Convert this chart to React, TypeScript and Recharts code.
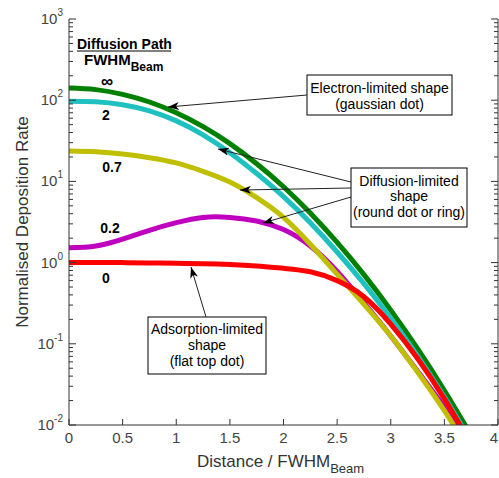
import { LineChart, Line, XAxis, YAxis } from "recharts";

// distance / FWHM (beam)
const distance = [0, 0.25, 0.5, 0.75, 1, 1.25, 1.5, 1.75, 2, 2.25, 2.5, 2.75, 3, 3.25, 3.5, 3.75];

// normalised deposition rate per diffusion path / FWHM
const pathInf = [141, 135, 118, 95, 70, 47.2, 29.2, 16.5, 8.6, 4.07, 1.77, 0.71, 0.26, 0.087, 0.0266, 0.0075];
const path2 = [97, 95.5, 87.7, 73.8, 55.6, 37.5, 22.6, 12.5, 6.5, 3.09, 1.35, 0.55, 0.206, 0.0705, 0.0221, 0.0062];
const path07 = [23.7, 23.2, 21.8, 19.6, 16.9, 13.3, 9.8, 6.3, 3.6, 1.68, 0.72, 0.306, 0.125, 0.045, 0.015, 0.0044];
const path02 = [1.52, 1.6, 1.95, 2.5, 3.1, 3.6, 3.6, 3.25, 2.55, 1.6, 0.78, 0.32, 0.125, 0.046, 0.0165, 0.0055];
const path0 = [1.0, 1.0, 1.0, 0.99, 0.98, 0.97, 0.95, 0.91, 0.85, 0.77, 0.6, 0.38, 0.175, 0.066, 0.021, 0.0058];

const xTicks = [0, 0.5, 1, 1.5, 2, 2.5, 3, 3.5, 4];
const xTickLabels = ["0", "0.5", "1", "1.5", "2", "2.5", "3", "3.5", "4"];
const yMajor = [0.01, 0.1, 1, 10, 100, 1000];
const yExponents = ["-2", "-1", "0", "1", "2", "3"];
const minorSteps = [2, 3, 4, 5, 6, 7, 8, 9];

const data = distance.map((x, i) => ({
  x,
  inf: pathInf[i],
  p2: path2[i],
  p07: path07[i],
  p02: path02[i],
  p0: path0[i],
}));

const yTicks: number[] = [];
yMajor.slice(0, -1).forEach(d => {
  yTicks.push(d);
  minorSteps.forEach(m => yTicks.push(+(d * m).toPrecision(3)));
});
yTicks.push(1000);

const W = 499;
const H = 478;
const LEFT = 69;
const RIGHT = 498;
const TOP = 19;
const BOTTOM = 425;
const FONT = "'Liberation Sans', Arial, sans-serif";
const AXIS = "#333";

const LeftTick = ({ y, payload }: any) => {
  const idx = yMajor.indexOf(payload.value);
  const major = idx >= 0;
  return (
    <g>
      <line x1={LEFT} x2={LEFT + (major ? 7 : 4)} y1={y} y2={y} stroke={AXIS} />
      {major && (
        <text x={LEFT - 6} y={y + 5} textAnchor="end" fontSize={15} fill="#444" fontFamily={FONT}>
          10<tspan dy={-8} fontSize={10}>{yExponents[idx]}</tspan>
        </text>
      )}
    </g>
  );
};

const RightTick = ({ y, payload }: any) => {
  const major = yMajor.includes(payload.value);
  return <line x1={RIGHT} x2={RIGHT - (major ? 7 : 4)} y1={y} y2={y} stroke={AXIS} />;
};

const BottomTick = ({ x, payload }: any) => {
  const idx = xTicks.indexOf(payload.value);
  const last = idx === xTicks.length - 1;
  return (
    <g>
      <line x1={x} x2={x} y1={BOTTOM} y2={BOTTOM - 6} stroke={AXIS} />
      <text x={last ? x - 4 : x} y={BOTTOM + 18} textAnchor="middle" fontSize={15} fill="#444" fontFamily={FONT}>
        {xTickLabels[idx]}
      </text>
    </g>
  );
};

const TopTick = ({ x }: any) => <line x1={x} x2={x} y1={TOP} y2={TOP + 6} stroke={AXIS} />;

// annotation arrows: tail -> tip
const Arrow = ({ x1, y1, x2, y2 }: { x1: number; y1: number; x2: number; y2: number }) => (
  <line x1={x1} y1={y1} x2={x2} y2={y2} stroke="#222" strokeWidth={1} markerEnd="url(#head)" />
);

export default function App() {
  const txt = { fontFamily: FONT, fill: "#000" } as const;
  return (
    <div style={{ position: "absolute", left: 0, top: 0, width: W, height: H, background: "#fff" }}>
      <LineChart width={W} height={H} data={data} margin={{ top: TOP, right: 0, bottom: 0, left: 0 }}>
        <XAxis
          xAxisId="b"
          dataKey="x"
          type="number"
          domain={[0, 4]}
          ticks={xTicks}
          interval={0}
          height={H - BOTTOM}
          tickLine={false}
          axisLine={{ stroke: AXIS }}
          tick={<BottomTick />}
          allowDataOverflow
        />
        <XAxis
          xAxisId="t"
          orientation="top"
          dataKey="x"
          type="number"
          domain={[0, 4]}
          ticks={xTicks}
          interval={0}
          height={0}
          tickLine={false}
          axisLine={{ stroke: AXIS }}
          tick={<TopTick />}
        />
        <YAxis
          yAxisId="l"
          scale="log"
          type="number"
          domain={[0.01, 1000]}
          ticks={yTicks}
          interval={0}
          width={LEFT}
          tickLine={false}
          axisLine={{ stroke: AXIS }}
          tick={<LeftTick />}
          allowDataOverflow
        />
        <YAxis
          yAxisId="r"
          orientation="right"
          scale="log"
          type="number"
          domain={[0.01, 1000]}
          ticks={yTicks}
          interval={0}
          width={W - RIGHT}
          tickLine={false}
          axisLine={{ stroke: AXIS }}
          tick={<RightTick />}
          allowDataOverflow
        />
        <Line xAxisId="b" yAxisId="l" dataKey="inf" type="natural" stroke="#008000" strokeWidth={5} dot={false} isAnimationActive={false} />
        <Line xAxisId="b" yAxisId="l" dataKey="p2" type="natural" stroke="#1FC0C0" strokeWidth={5} dot={false} isAnimationActive={false} />
        <Line xAxisId="b" yAxisId="l" dataKey="p02" type="natural" stroke="#BF00BF" strokeWidth={5} dot={false} isAnimationActive={false} />
        <Line xAxisId="b" yAxisId="l" dataKey="p07" type="natural" stroke="#BFBF00" strokeWidth={5} dot={false} isAnimationActive={false} />
        <Line xAxisId="b" yAxisId="l" dataKey="p0" type="natural" stroke="#FF0000" strokeWidth={5} dot={false} isAnimationActive={false} />
      </LineChart>

      <svg width={W} height={H} style={{ position: "absolute", left: 0, top: 0, pointerEvents: "none" }}>
        <defs>
          <marker id="head" viewBox="0 -4 11 8" refX={11} refY={0} markerWidth={11} markerHeight={8} markerUnits="userSpaceOnUse" orient="auto">
            <path d="M0,-4 L11,0 L0,4 L3,0 Z" fill="#000" />
          </marker>
        </defs>

        {/* axis titles */}
        <text x={197} y={467} fontSize={17} fill="#333" fontFamily={FONT}>
          Distance / FWHM<tspan dy={6} fontSize={13}>Beam</tspan>
        </text>
        <text
          transform="translate(28,222) rotate(-90)"
          textAnchor="middle"
          fontSize={17}
          fill="#333"
          fontFamily={FONT}
        >
          Normalised Deposition Rate
        </text>

        {/* legend header */}
        <text x={77} y={49} fontSize={14} fontWeight="bold" {...txt}>Diffusion Path</text>
        <line x1={77} x2={171} y1={51} y2={51} stroke="#000" />
        <text x={84} y={65} fontSize={15} fontWeight="bold" {...txt}>
          FWHM<tspan dy={6} fontSize={12}>Beam</tspan>
        </text>

        {/* curve labels */}
        <text x={107} y={87} fontSize={17} fontWeight="bold" textAnchor="middle" {...txt}>∞</text>
        <text x={106} y={120} fontSize={14} fontWeight="bold" textAnchor="middle" {...txt}>2</text>
        <text x={112} y={172} fontSize={14} fontWeight="bold" textAnchor="middle" {...txt}>0.7</text>
        <text x={110} y={233} fontSize={14} fontWeight="bold" textAnchor="middle" {...txt}>0.2</text>
        <text x={106} y={283} fontSize={14} fontWeight="bold" textAnchor="middle" {...txt}>0</text>

        {/* electron-limited */}
        <rect x={307} y={75} width={145} height={40} fill="#fff" stroke="#000" />
        <text x={379.5} y={93} fontSize={14} textAnchor="middle" {...txt}>Electron-limited shape</text>
        <text x={379.5} y={109} fontSize={14} textAnchor="middle" {...txt}>(gaussian dot)</text>
        <Arrow x1={307} y1={95} x2={168} y2={107} />

        {/* diffusion-limited */}
        <rect x={351} y={168} width={116} height={59} fill="#fff" stroke="#000" />
        <text x={409} y={186} fontSize={14} textAnchor="middle" {...txt}>Diffusion-limited</text>
        <text x={409} y={201} fontSize={14} textAnchor="middle" {...txt}>shape</text>
        <text x={409} y={217} fontSize={14} textAnchor="middle" {...txt}>(round dot or ring)</text>
        <Arrow x1={351} y1={182} x2={218} y2={149} />
        <Arrow x1={351} y1={188} x2={240} y2={190} />
        <Arrow x1={351} y1={197} x2={263} y2={223} />

        {/* adsorption-limited */}
        <rect x={148} y={317} width={118} height={57} fill="#fff" stroke="#000" />
        <text x={207} y={334} fontSize={14} textAnchor="middle" {...txt}>Adsorption-limited</text>
        <text x={207} y={350} fontSize={14} textAnchor="middle" {...txt}>shape</text>
        <text x={207} y={366} fontSize={14} textAnchor="middle" {...txt}>(flat top dot)</text>
        <Arrow x1={206} y1={317} x2={191} y2={267} />
      </svg>
    </div>
  );
}
